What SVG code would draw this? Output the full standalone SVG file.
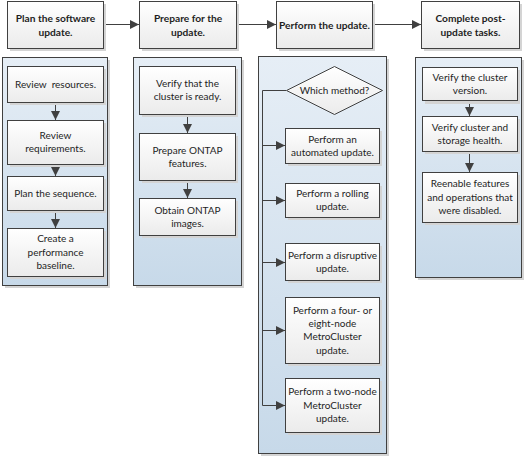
<svg xmlns="http://www.w3.org/2000/svg" width="526" height="456" viewBox="0 0 526 456">
<style>
.box{fill:url(#boxg);stroke:#404040;stroke-width:1}
.panel{fill:url(#panelg);stroke:#404040;stroke-width:1}
.sh{fill:#d4d4d4}
.t{font-family:Lato,"Liberation Sans",sans-serif;font-size:10px;fill:#1e1e1e;text-anchor:middle}
.h{font-family:Lato,"Liberation Sans",sans-serif;font-size:10.2px;font-weight:bold;fill:#1e1e1e;text-anchor:middle}
.c{fill:none;stroke:#404040;stroke-width:1}
</style>
<defs>
<linearGradient id="boxg" x1="0" y1="0" x2="0" y2="1"><stop offset="0" stop-color="#ffffff"/><stop offset="1" stop-color="#ebebeb"/></linearGradient>
<linearGradient id="panelg" x1="0" y1="0" x2="0" y2="1"><stop offset="0" stop-color="#e6eef6"/><stop offset="1" stop-color="#c7d9e9"/></linearGradient>
<marker id="ah" markerUnits="userSpaceOnUse" markerWidth="10" markerHeight="10" refX="9" refY="4.5" orient="auto"><path d="M0,0 L9,4.5 L0,9 z" fill="#404040"/></marker>
</defs>
<rect width="526" height="456" fill="#ffffff"/>

<g id="panel1">
<rect class="sh" x="5" y="60" width="105" height="228"/>
<rect class="panel" x="2.5" y="57.5" width="105" height="228"/>
</g>
<g id="panel2">
<rect class="sh" x="136" y="60" width="108" height="228"/>
<rect class="panel" x="133.5" y="57.5" width="108" height="228"/>
</g>
<g id="panel3">
<rect class="sh" x="261" y="59" width="128" height="397"/>
<rect class="panel" x="258.5" y="56.5" width="128" height="397"/>
</g>
<g id="panel4">
<rect class="sh" x="418" y="60" width="106" height="220"/>
<rect class="panel" x="415.5" y="57.5" width="106" height="220"/>
</g>

<g id="connectors">
<line class="c" x1="103.5" y1="24.5" x2="139" y2="24.5" marker-end="url(#ah)"/>
<line class="c" x1="236.5" y1="24.5" x2="276" y2="24.5" marker-end="url(#ah)"/>
<line class="c" x1="372.5" y1="24.5" x2="421" y2="24.5" marker-end="url(#ah)"/>
<line class="c" x1="55.5" y1="102.5" x2="55.5" y2="120" marker-end="url(#ah)"/>
<line class="c" x1="55.5" y1="164.5" x2="55.5" y2="176" marker-end="url(#ah)"/>
<line class="c" x1="55.5" y1="210.5" x2="55.5" y2="228" marker-end="url(#ah)"/>
<line class="c" x1="187.5" y1="114.5" x2="187.5" y2="133" marker-end="url(#ah)"/>
<line class="c" x1="187.5" y1="180.5" x2="187.5" y2="198" marker-end="url(#ah)"/>
<line class="c" x1="469.5" y1="100.5" x2="469.5" y2="116" marker-end="url(#ah)"/>
<line class="c" x1="469.5" y1="151.5" x2="469.5" y2="172" marker-end="url(#ah)"/>
<polyline class="c" points="286,90.5 262.5,90.5 262.5,405.5"/>
<line class="c" x1="262.5" y1="145.5" x2="285" y2="145.5" marker-end="url(#ah)"/>
<line class="c" x1="262.5" y1="200.5" x2="285" y2="200.5" marker-end="url(#ah)"/>
<line class="c" x1="262.5" y1="262.5" x2="285" y2="262.5" marker-end="url(#ah)"/>
<line class="c" x1="262.5" y1="330.5" x2="285" y2="330.5" marker-end="url(#ah)"/>
<line class="c" x1="262.5" y1="405.5" x2="285" y2="405.5" marker-end="url(#ah)"/>
</g>

<g id="plan">
<rect class="sh" x="10" y="4" width="96" height="47"/>
<rect class="box" x="7.5" y="1.5" width="96" height="47"/>
<text class="h" x="55.5" y="21.5">Plan the software</text>
<text class="h" x="55.5" y="35.5">update.</text>
</g>
<g id="prepare">
<rect class="sh" x="142" y="4" width="97" height="47"/>
<rect class="box" x="139.5" y="1.5" width="97" height="47"/>
<text class="h" x="188" y="21.5">Prepare for the</text>
<text class="h" x="188" y="35.5">update.</text>
</g>
<g id="perform">
<rect class="sh" x="279" y="4" width="96" height="47"/>
<rect class="box" x="276.5" y="1.5" width="96" height="47"/>
<text class="h" x="324.5" y="28.5">Perform the update.</text>
</g>
<g id="complete">
<rect class="sh" x="424" y="4" width="98" height="47"/>
<rect class="box" x="421.5" y="1.5" width="98" height="47"/>
<text class="h" x="470.5" y="21.5">Complete post-</text>
<text class="h" x="470.5" y="35.5">update tasks.</text>
</g>

<g id="review-resources">
<rect class="sh" x="10" y="69" width="96" height="36"/>
<rect class="box" x="7.5" y="66.5" width="96" height="36"/>
<text class="t" x="55.5" y="88" xml:space="preserve">Review  resources.</text>
</g>
<g id="review-requirements">
<rect class="sh" x="10" y="123" width="96" height="44"/>
<rect class="box" x="7.5" y="120.5" width="96" height="44"/>
<text class="t" x="55.5" y="139">Review</text>
<text class="t" x="55.5" y="152.3">requirements.</text>
</g>
<g id="plan-sequence">
<rect class="sh" x="10" y="179" width="96" height="34"/>
<rect class="box" x="7.5" y="176.5" width="96" height="34"/>
<text class="t" x="55.5" y="197">Plan the sequence.</text>
</g>
<g id="baseline">
<rect class="sh" x="10" y="231" width="96" height="48"/>
<rect class="box" x="7.5" y="228.5" width="96" height="48"/>
<text class="t" x="55.5" y="242.4">Create a</text>
<text class="t" x="55.5" y="255.7">performance</text>
<text class="t" x="55.5" y="269">baseline.</text>
</g>

<g id="verify-ready">
<rect class="sh" x="142" y="69" width="96" height="48"/>
<rect class="box" x="139.5" y="66.5" width="96" height="48"/>
<text class="t" x="187.5" y="87">Verify that the</text>
<text class="t" x="187.5" y="100.3">cluster is ready.</text>
</g>
<g id="prepare-features">
<rect class="sh" x="142" y="136" width="96" height="47"/>
<rect class="box" x="139.5" y="133.5" width="96" height="47"/>
<text class="t" x="187.5" y="153.5">Prepare ONTAP</text>
<text class="t" x="187.5" y="166.8">features.</text>
</g>
<g id="obtain-images">
<rect class="sh" x="142" y="201" width="96" height="37"/>
<rect class="box" x="139.5" y="198.5" width="96" height="37"/>
<text class="t" x="187.5" y="213.5">Obtain ONTAP</text>
<text class="t" x="187.5" y="226.8">images.</text>
</g>

<g id="which-method">
<polygon points="334.5,66.5 382.5,90.5 334.5,114.5 286.5,90.5" fill="url(#boxg)" stroke="#404040" stroke-width="1"/>
<text class="t" x="334.5" y="94">Which method?</text>
</g>
<g id="automated">
<rect class="sh" x="288" y="131" width="94" height="35"/>
<rect class="box" x="285.5" y="128.5" width="94" height="35"/>
<text class="t" x="332.5" y="142.5">Perform an</text>
<text class="t" x="332.5" y="155.8">automated update.</text>
</g>
<g id="rolling">
<rect class="sh" x="288" y="186" width="94" height="34"/>
<rect class="box" x="285.5" y="183.5" width="94" height="34"/>
<text class="t" x="332.5" y="197">Perform a rolling</text>
<text class="t" x="332.5" y="210.3">update.</text>
</g>
<g id="disruptive">
<rect class="sh" x="288" y="246" width="94" height="37"/>
<rect class="box" x="285.5" y="243.5" width="94" height="37"/>
<text class="t" x="332.5" y="258.5">Perform a disruptive</text>
<text class="t" x="332.5" y="271.8">update.</text>
</g>
<g id="four-eight-node">
<rect class="sh" x="288" y="300" width="94" height="66"/>
<rect class="box" x="285.5" y="297.5" width="94" height="66"/>
<text class="t" x="332.5" y="313.7">Perform a four- or</text>
<text class="t" x="332.5" y="327">eight-node</text>
<text class="t" x="332.5" y="340.3">MetroCluster</text>
<text class="t" x="332.5" y="353.6">update.</text>
</g>
<g id="two-node">
<rect class="sh" x="288" y="381" width="94" height="54"/>
<rect class="box" x="285.5" y="378.5" width="94" height="54"/>
<text class="t" x="332.5" y="395.4">Perform a two-node</text>
<text class="t" x="332.5" y="408.7">MetroCluster</text>
<text class="t" x="332.5" y="422">update.</text>
</g>

<g id="verify-version">
<rect class="sh" x="425" y="70" width="95" height="34"/>
<rect class="box" x="422.5" y="67.5" width="95" height="33"/>
<text class="t" x="470" y="81">Verify the cluster</text>
<text class="t" x="470" y="94.3">version.</text>
</g>
<g id="verify-health">
<rect class="sh" x="425" y="119" width="95" height="35"/>
<rect class="box" x="422.5" y="116.5" width="95" height="35"/>
<text class="t" x="470" y="131">Verify cluster and</text>
<text class="t" x="470" y="144.3">storage health.</text>
</g>
<g id="reenable">
<rect class="sh" x="425" y="175" width="95" height="50"/>
<rect class="box" x="422.5" y="172.5" width="95" height="50"/>
<text class="t" x="470" y="187.4">Reenable features</text>
<text class="t" x="470" y="200.7">and operations that</text>
<text class="t" x="470" y="214">were disabled.</text>
</g>
</svg>
